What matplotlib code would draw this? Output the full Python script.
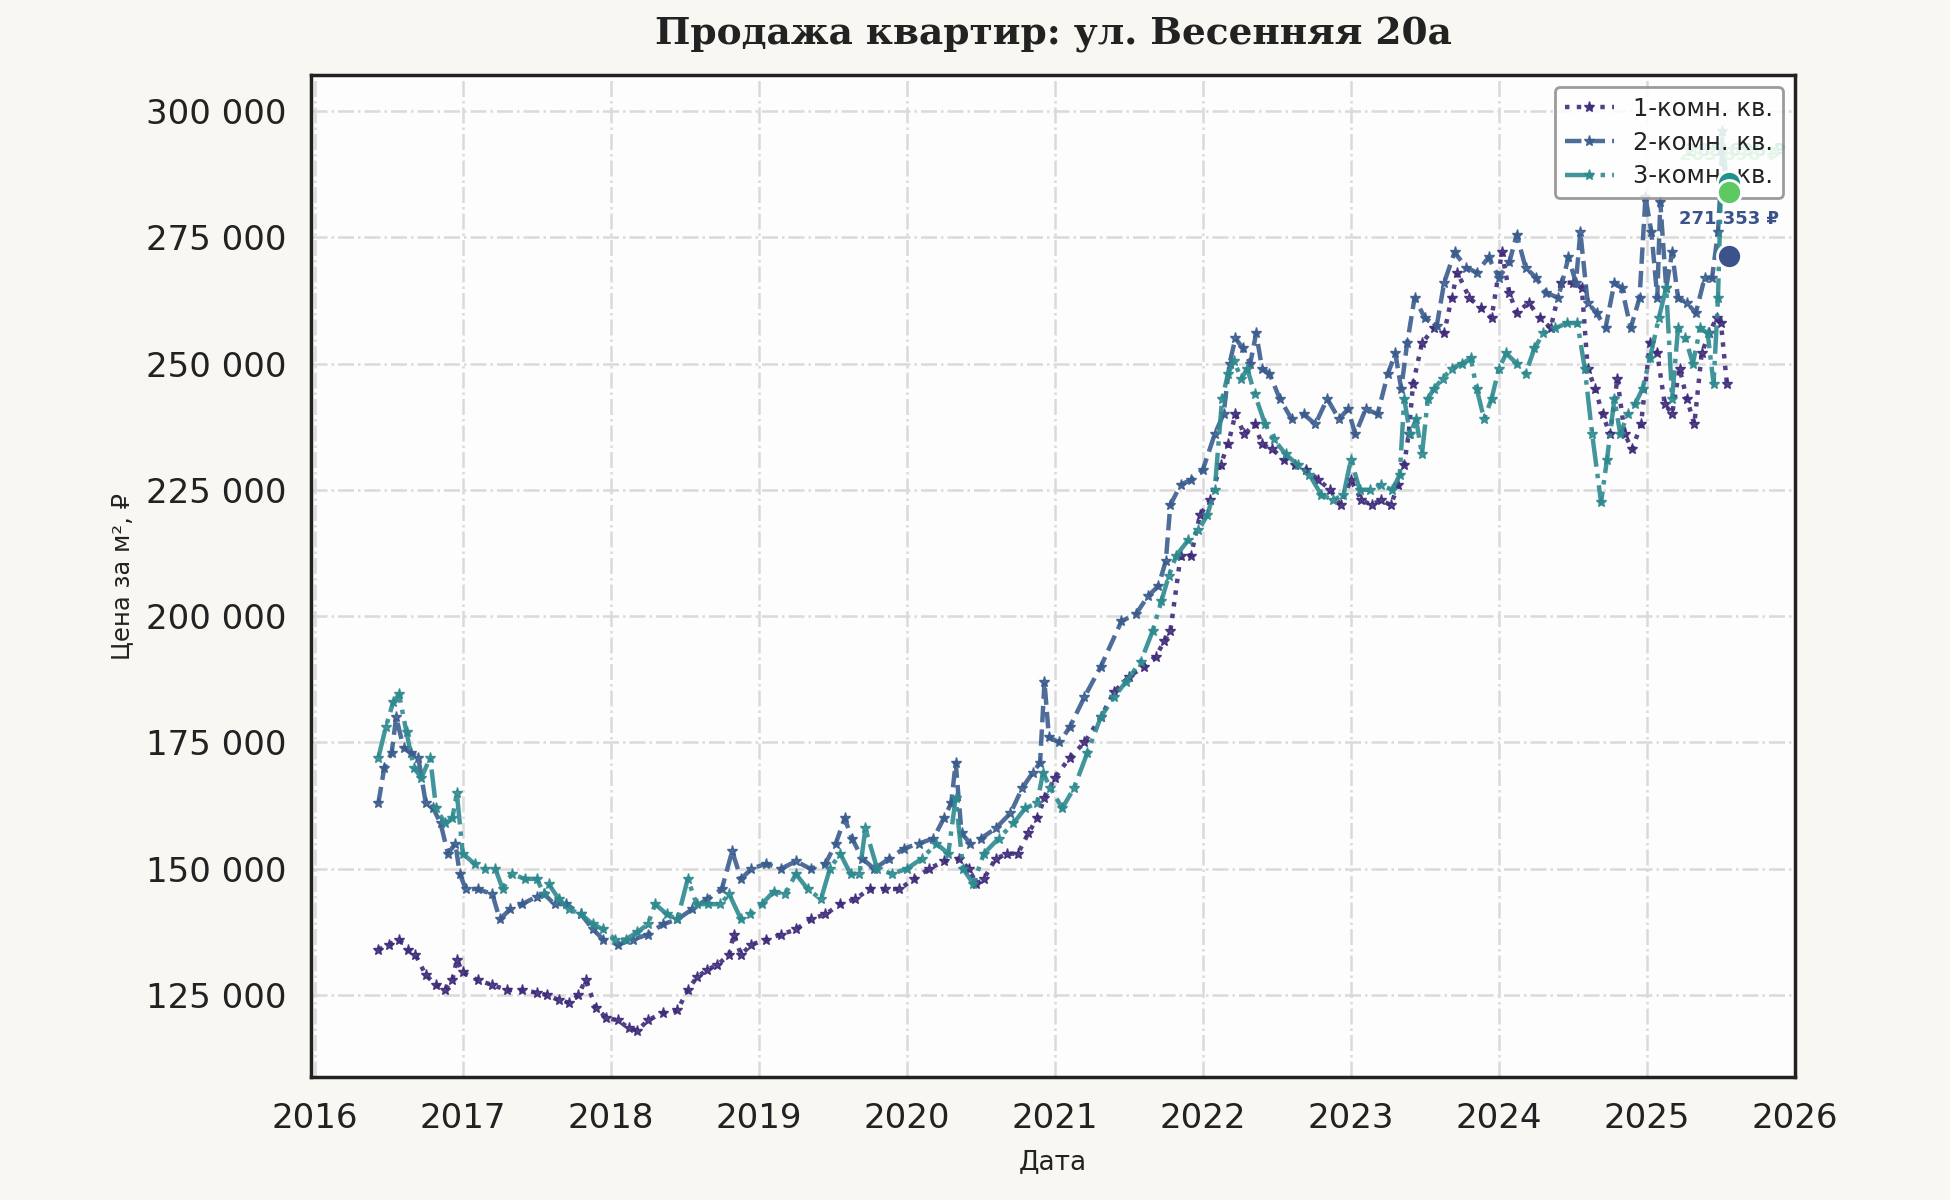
import matplotlib as mpl
mpl.use('agg')
import matplotlib.pyplot as plt
from matplotlib.ticker import FuncFormatter

# 1-комн. кв. (годы, тыс. руб/м2)
t1 = [2016.43, 2016.50, 2016.57, 2016.63, 2016.68, 2016.75, 2016.82, 2016.88, 2016.93, 2016.96,
      2017.00, 2017.10, 2017.20, 2017.30, 2017.40, 2017.50, 2017.57, 2017.65, 2017.72, 2017.78,
      2017.83, 2017.90, 2017.97, 2018.05, 2018.12, 2018.18, 2018.25, 2018.35, 2018.45, 2018.52,
      2018.58, 2018.65, 2018.72, 2018.80, 2018.83, 2018.88, 2018.95, 2019.05, 2019.15, 2019.25,
      2019.35, 2019.45, 2019.55, 2019.65, 2019.75, 2019.85, 2019.95, 2020.05, 2020.15, 2020.25,
      2020.35, 2020.42, 2020.47, 2020.52, 2020.60, 2020.68, 2020.75, 2020.82, 2020.88, 2020.93,
      2021.00, 2021.10, 2021.20, 2021.31, 2021.40, 2021.50, 2021.60, 2021.68, 2021.74, 2021.78,
      2021.85, 2021.92, 2021.98, 2022.05, 2022.12, 2022.17, 2022.22, 2022.28, 2022.35, 2022.40,
      2022.47, 2022.55, 2022.62, 2022.70, 2022.78, 2022.86, 2022.93, 2023.00, 2023.07, 2023.14,
      2023.20, 2023.27, 2023.32, 2023.36, 2023.39, 2023.42, 2023.48, 2023.56, 2023.63, 2023.68,
      2023.72, 2023.80, 2023.88, 2023.95, 2024.02, 2024.07, 2024.12, 2024.20, 2024.28, 2024.35,
      2024.42, 2024.50, 2024.56, 2024.60, 2024.65, 2024.70, 2024.75, 2024.80, 2024.85, 2024.90,
      2024.96, 2025.02, 2025.07, 2025.12, 2025.17, 2025.22, 2025.27, 2025.32, 2025.37, 2025.42,
      2025.47, 2025.50, 2025.54]
v1 = [134, 135, 136, 134, 133, 129, 127, 126, 128, 132,
      129.5, 128, 127, 126, 126, 125.5, 125, 124, 123.5, 125,
      128, 122.5, 120.5, 120, 118.5, 118, 120, 121.5, 122, 126,
      128.5, 130, 131, 133, 137, 133, 135, 136, 137, 138,
      140, 141, 143, 144, 146, 146, 146, 148, 150, 151.5,
      152, 150, 147, 148, 152, 153, 153, 157, 160, 164,
      168, 172, 175, 180, 185, 188, 190, 192, 195, 197,
      212, 212, 220, 223, 230, 234, 240, 236, 238, 234,
      233, 231, 230, 229, 227, 225, 222, 227, 223, 222,
      223, 222, 226, 230, 236, 246, 254, 257, 256, 263,
      268, 263, 261, 259, 272, 264, 260, 262, 259, 257,
      266, 266, 265, 249, 245, 240, 236, 247, 236, 233,
      238, 254, 252, 242, 240, 249, 243, 238, 252, 256,
      259, 258, 246]

# 2-комн. кв.
t2 = [2016.43, 2016.47, 2016.52, 2016.55, 2016.60, 2016.65, 2016.70, 2016.75, 2016.80, 2016.85,
      2016.90, 2016.95, 2016.98, 2017.02, 2017.10, 2017.20, 2017.25, 2017.32, 2017.40, 2017.50,
      2017.55, 2017.62, 2017.70, 2017.80, 2017.88, 2017.95, 2018.05, 2018.15, 2018.25, 2018.35,
      2018.45, 2018.55, 2018.65, 2018.75, 2018.82, 2018.88, 2018.95, 2019.05, 2019.15, 2019.25,
      2019.35, 2019.45, 2019.52, 2019.58, 2019.63, 2019.70, 2019.78, 2019.88, 2019.98, 2020.08,
      2020.18, 2020.25, 2020.30, 2020.33, 2020.37, 2020.43, 2020.50, 2020.60, 2020.70, 2020.78,
      2020.85, 2020.90, 2020.93, 2020.96, 2021.03, 2021.10, 2021.20, 2021.31, 2021.45, 2021.55,
      2021.63, 2021.70, 2021.75, 2021.78, 2021.85, 2021.92, 2022.00, 2022.08, 2022.14, 2022.18,
      2022.22, 2022.27, 2022.32, 2022.36, 2022.40, 2022.45, 2022.52, 2022.60, 2022.68, 2022.76,
      2022.84, 2022.92, 2022.98, 2023.03, 2023.10, 2023.18, 2023.25, 2023.30, 2023.34, 2023.38,
      2023.43, 2023.50, 2023.58, 2023.63, 2023.70, 2023.78, 2023.85, 2023.93, 2024.00, 2024.07,
      2024.12, 2024.18, 2024.25, 2024.32, 2024.40, 2024.47, 2024.52, 2024.55, 2024.60, 2024.66,
      2024.72, 2024.78, 2024.83, 2024.89, 2024.95, 2024.99, 2025.03, 2025.07, 2025.09, 2025.13,
      2025.17, 2025.21, 2025.27, 2025.33, 2025.39, 2025.44, 2025.48, 2025.51, 2025.54]
v2 = [163, 170, 173, 180, 174, 173, 172, 163, 162, 159,
      153, 155, 149, 146, 146, 145, 140, 142, 143, 144.5,
      145, 143, 143, 141, 138, 136, 135, 136, 137, 139,
      140, 142, 144, 146, 153.5, 148, 150, 151, 150, 151.5,
      150, 151, 155, 160, 156, 152, 150, 152, 154, 155,
      156, 160, 163, 171, 157, 155, 156, 158, 161, 166,
      169, 171, 187, 176, 175, 178, 184, 190, 199, 200.5,
      204, 206, 211, 222, 226, 227, 229, 236, 240, 250,
      255, 253, 250, 256, 249, 248, 243, 239, 240, 238,
      243, 239, 241, 236, 241, 240, 248, 252, 245, 254,
      263, 259, 257.5, 266, 272, 269, 268, 271, 267, 270,
      275.5, 269, 267, 264, 263, 271, 266, 276, 262, 260,
      257, 266, 265, 257, 263, 283, 276, 263, 282, 265,
      272, 263, 262, 260, 267, 267, 276, 292, 284]

# 3-комн. кв.
t3 = [2016.43, 2016.48, 2016.53, 2016.57, 2016.62, 2016.67, 2016.72, 2016.78, 2016.82, 2016.88,
      2016.93, 2016.96, 2017.00, 2017.08, 2017.15, 2017.22, 2017.27, 2017.33, 2017.42, 2017.50,
      2017.55, 2017.58, 2017.65, 2017.72, 2017.80, 2017.88, 2017.95, 2018.03, 2018.10, 2018.18,
      2018.25, 2018.30, 2018.38, 2018.45, 2018.52, 2018.58, 2018.66, 2018.74, 2018.80, 2018.88,
      2018.94, 2019.02, 2019.10, 2019.18, 2019.25, 2019.33, 2019.42, 2019.48, 2019.55, 2019.62,
      2019.68, 2019.72, 2019.80, 2019.90, 2020.00, 2020.10, 2020.20, 2020.28, 2020.33, 2020.38,
      2020.45, 2020.52, 2020.62, 2020.72, 2020.80, 2020.88, 2020.92, 2020.97, 2021.05, 2021.13,
      2021.22, 2021.31, 2021.40, 2021.48, 2021.58, 2021.66, 2021.72, 2021.77, 2021.82, 2021.90,
      2021.97, 2022.03, 2022.08, 2022.13, 2022.17, 2022.21, 2022.26, 2022.30, 2022.35, 2022.42,
      2022.48, 2022.56, 2022.64, 2022.72, 2022.80, 2022.88, 2022.95, 2023.00, 2023.06, 2023.13,
      2023.20, 2023.28, 2023.33, 2023.36, 2023.40, 2023.44, 2023.48, 2023.52, 2023.56, 2023.62,
      2023.68, 2023.75, 2023.81, 2023.85, 2023.90, 2023.95, 2024.00, 2024.05, 2024.12, 2024.18,
      2024.24, 2024.30, 2024.38, 2024.46, 2024.53, 2024.58, 2024.63, 2024.69, 2024.73, 2024.78,
      2024.82, 2024.87, 2024.92, 2024.97, 2025.02, 2025.08, 2025.13, 2025.17, 2025.21, 2025.26,
      2025.31, 2025.36, 2025.41, 2025.45, 2025.48, 2025.51, 2025.54]
v3 = [172, 178, 183, 184.5, 177, 170, 168, 172, 162, 159,
      160, 165, 153, 151, 150, 150, 146, 149, 148, 148,
      145, 147, 144, 142, 141, 139, 138, 136, 136, 137.5,
      139, 143, 141, 140, 148, 143, 143, 143, 145, 140,
      141, 143, 145.5, 145, 149, 146, 144, 150, 153, 149,
      149, 158, 150, 149, 150, 152, 155, 153, 164, 150,
      147, 153, 156, 159, 162, 163, 169, 166, 162, 166,
      173, 180, 184, 187, 191, 197, 203, 208, 212, 215,
      217, 220, 225, 243, 248, 250.5, 247, 249, 244, 238,
      235, 232, 230, 228, 224, 223, 224, 231, 225, 225,
      226, 225, 228, 243, 236, 239, 232, 243, 245, 247,
      249, 250, 251, 245, 239, 243, 249, 252, 250, 248,
      253, 256, 257, 258, 258, 249, 236, 222.5, 231, 243,
      236, 240, 242, 245, 251, 259, 265, 243, 257, 255,
      250, 257, 256, 246, 263, 296, 285]

labels = ['1-комн. кв.', '2-комн. кв.', '3-комн. кв.']
line_colors = ['#3f2b7a', '#3b5d8e', '#2e8a8f']
line_styles = [':', '--', '-.']

# последние значения
end_date = 2025.555
end_values = [271353, 285698, 283898]
end_colors = ['#3b528b', '#21918c', '#5ec962']
end_offsets = [(0, 20), (4, 17), (0, 20)]

plt.rcParams['font.family'] = ['DejaVu Sans']

fig = plt.figure(figsize=(19.5, 12), dpi=100, facecolor='#f8f7f2')
ax = fig.add_axes([0.1595, 0.1025, 0.761, 0.835])
ax.set_facecolor('#fdfdfd')

for t, v, lab, col, ls in zip([t1, t2, t3], [v1, v2, v3], labels, line_colors, line_styles):
    ax.plot(t, [x * 1000 for x in v], ls=ls, color=col, lw=3.2, marker='*', ms=8,
            alpha=0.9, label=lab, zorder=2)

for val, col, off in zip(end_values, end_colors, end_offsets):
    ax.scatter([end_date], [val], s=300, color=col, edgecolors='white', linewidths=2, zorder=6)
    ax.annotate(f"{val:,}".replace(",", " ") + " ₽", (end_date, val), xytext=off,
                textcoords='offset points', ha='center', va='bottom', fontsize=13,
                fontweight='bold', color=col, zorder=3)

ax.set_xlim(2015.975, 2026.0)
ax.set_ylim(108800, 307100)
ax.set_xticks(range(2016, 2027))
ax.set_yticks(range(125000, 300001, 25000))
ax.yaxis.set_major_formatter(FuncFormatter(lambda v, p: f"{int(v):,}".replace(",", " ")))

ax.grid(True, ls='-.', color='#dadada', lw=1.8)
ax.set_axisbelow(True)
for s in ax.spines.values():
    s.set_linewidth(2.5)
    s.set_color('#222222')
ax.tick_params(length=0, pad=18, labelsize=24.5, labelcolor='#222222')

ax.set_title('Продажа квартир: ул. Весенняя 20а', fontsize=27, fontweight='bold',
             family='DejaVu Serif', color='#222222', pad=22)
ax.set_xlabel('Дата', fontsize=19, labelpad=10, color='#222222')
ax.set_ylabel('Цена за м², ₽', fontsize=17.5, labelpad=8, color='#222222')

leg = ax.legend(loc='upper right', fontsize=17.5, frameon=True, framealpha=0.85,
                edgecolor='#8a8a8a', fancybox=True, labelcolor='#222222',
                labelspacing=0.4)
leg.get_frame().set_linewidth(2)

fig.savefig('out.png', dpi=100, facecolor=fig.get_facecolor())
